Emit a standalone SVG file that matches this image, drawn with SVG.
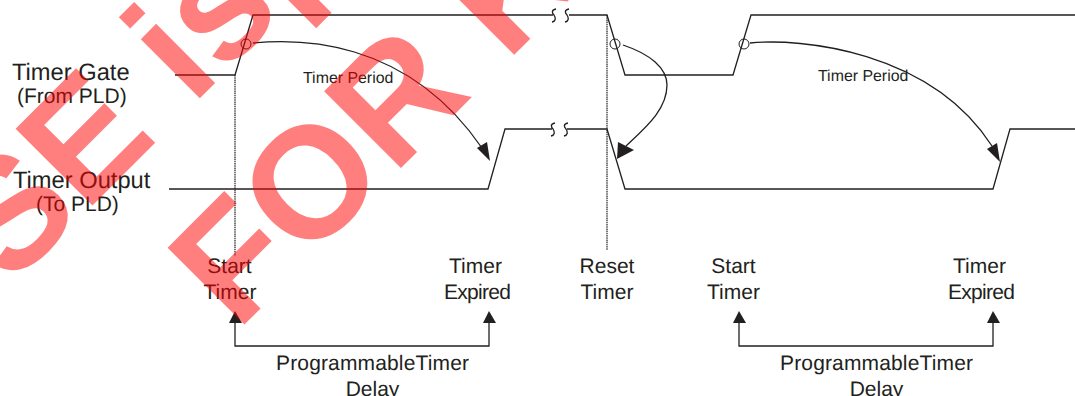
<svg xmlns="http://www.w3.org/2000/svg" width="1075" height="396" viewBox="0 0 1075 396">
<style>
text{font-family:"Liberation Sans",Arial,sans-serif;fill:#231f20;text-rendering:geometricPrecision}
.lg{font-size:23.7px}.md{font-size:21px}.sm{font-size:15.9px}
.c{text-anchor:middle}
.w{fill:none;stroke:#231f20;stroke-width:1.3}
.d{fill:none;stroke:#231f20;stroke-width:1.2;stroke-dasharray:1.5 .7}
.o{fill:none;stroke:#231f20;stroke-width:1}
.h{fill:#231f20;stroke:none}
.wm{font-size:158px;font-weight:700;fill:#f00;fill-opacity:.5}
</style>
<rect width="1075" height="396" fill="#fff"/>
<g id="connectors">
<path class="w" d="M175 75H235L253 15H553M569 15H607L625 75H733L751 15H1075"/>
<path class="w" d="M169 189H488L505 129H552M567 129H607L625 189H993L1010 129H1075"/>
<path class="w" d="M556 9C551 10 552 13 554 15C556 18 556 21 552 22M569 9C564 10 565 13 567 15C569 18 569 21 565 22"/>
<path class="w" d="M555 123C550 124 551 127 553 129C555 132 555 135 551 136M568 123C563 124 564 127 566 129C568 132 568 135 564 136"/>
<path class="d" d="M235 75V256"/>
<path class="d" d="M607 15V250"/>
<path class="w" d="M253 43C295 39 405 36 482 148"/>
<path class="h" d="M490 161L477 148L487 142Z"/>
<path class="w" d="M623 45C650 54 667 68 667 85C667 110 645 128 626 146"/>
<path class="h" d="M617 159L618 142L634 150Z"/>
<path class="w" d="M750 43C800 38 930 50 992 146"/>
<path class="h" d="M1000 162L987 149L997 143Z"/>
<path class="w" d="M235 320V346H489V320"/>
<path class="h" d="M235 311L229 323H242Z"/>
<path class="h" d="M489 311L483 323H496Z"/>
<path class="w" d="M739 320V346H993V320"/>
<path class="h" d="M739 311L733 323H746Z"/>
<path class="h" d="M993 311L987 323H1000Z"/>
</g>
<g id="circle-1"><circle class="o" cx="246" cy="44" r="5"/></g>
<g id="circle-2"><circle class="o" cx="615" cy="44" r="5"/></g>
<g id="circle-3"><circle class="o" cx="744" cy="44" r="5"/></g>
<g id="label-gate"><text class="lg" x="12" y="80">Timer Gate</text><text class="md" x="17" y="103">(From PLD)</text></g>
<g id="label-output"><text class="lg" x="13" y="188">Timer Output</text><text class="md" x="36" y="211">(To PLD)</text></g>
<g id="period-1"><text class="sm" x="303" y="83">Timer Period</text></g>
<g id="period-2"><text class="sm" x="818" y="81">Timer Period</text></g>
<g id="start-1"><text class="md c" x="229.500" y="273">Start</text><text class="md c" x="230" y="299">Timer</text></g>
<g id="expired-1"><text class="md c" x="475.500" y="273">Timer</text><text class="md" x="444" y="299" textLength="67">Expired</text></g>
<g id="reset"><text class="md c" x="607" y="273">Reset</text><text class="md c" x="607" y="299">Timer</text></g>
<g id="start-2"><text class="md c" x="733.500" y="273">Start</text><text class="md c" x="733.500" y="299">Timer</text></g>
<g id="expired-2"><text class="md c" x="979.500" y="273">Timer</text><text class="md" x="948" y="299" textLength="67">Expired</text></g>
<g id="delay-1"><text class="md" x="276" y="370" textLength="193">ProgrammableTimer</text><text class="md c" x="372.500" y="396">Delay</text></g>
<g id="delay-2"><text class="md" x="780" y="370" textLength="193">ProgrammableTimer</text><text class="md c" x="876.500" y="396">Delay</text></g>
<g id="watermark">
<text class="wm" transform="translate(10.500 287.500) rotate(-45)">SE <tspan dx="2">isp</tspan></text>
<text class="wm" transform="translate(237 332) rotate(-45)">FO<tspan dx="2">R</tspan> <tspan dx="2">K</tspan></text>
</g>
</svg>
